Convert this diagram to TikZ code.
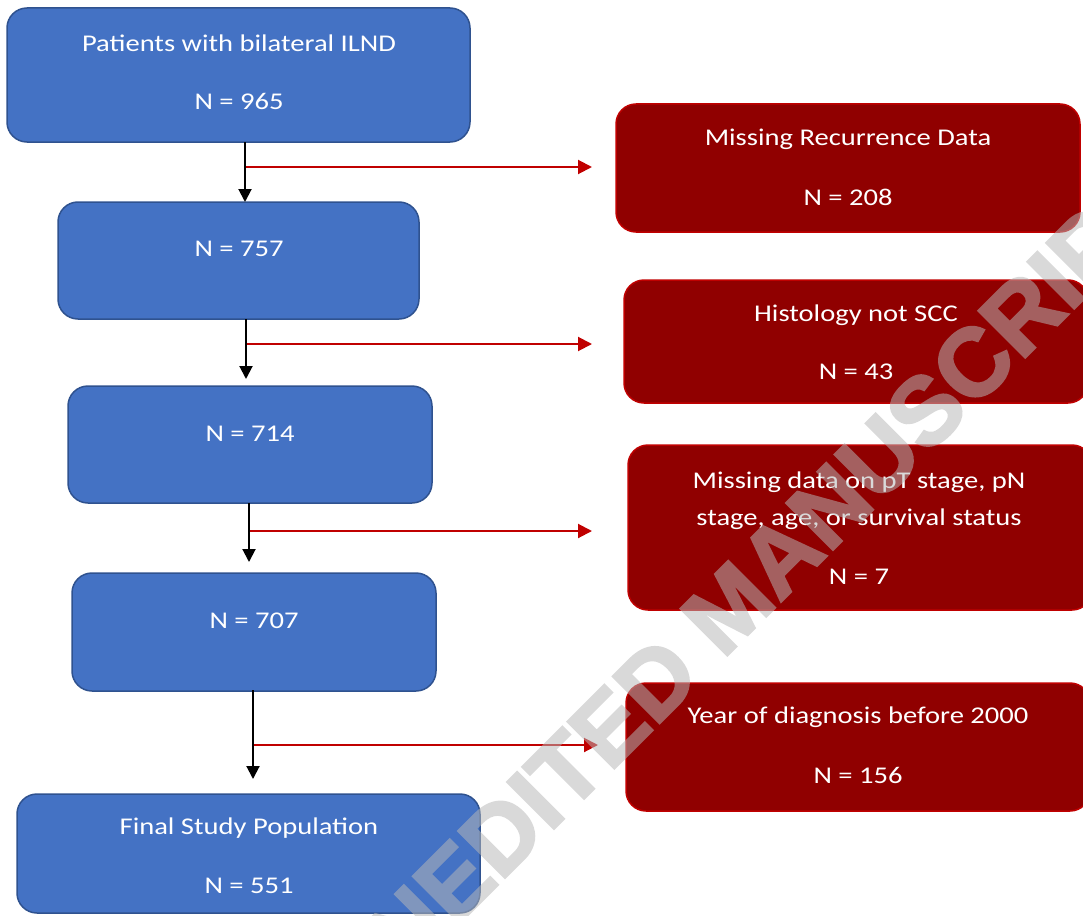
\documentclass[tikz,border=0pt]{standalone}
\usepackage{fontspec}
\usepackage{graphicx}
\setmainfont{Carlito}
\newfontfamily\wmfont{Liberation Sans}[FakeBold=2.5]
\usetikzlibrary{arrows.meta}
\definecolor{boxblue}{HTML}{4472C4}
\definecolor{blueedge}{HTML}{2F528F}
\definecolor{boxred}{HTML}{900000}
\definecolor{rededge}{HTML}{C00000}
\definecolor{wmgray}{RGB}{183,183,183}
\newcommand{\sx}[1]{\scalebox{1.19}[1]{#1}}
\tikzset{
  bluebox/.style={draw=blueedge, line width=1.5pt, fill=boxblue, rounded corners=20pt, inner sep=0pt},
  redbox/.style={draw=rededge, line width=1.5pt, fill=boxred, rounded corners=20pt, inner sep=0pt},
  txt/.style={text=white, font=\fontsize{24}{37}\selectfont, align=center, inner sep=0pt},
  flow/.style={draw=black, line width=2pt, -{Triangle[length=13pt,width=13pt]}},
  excl/.style={draw=rededge, line width=2pt, -{Triangle[length=14pt,width=14pt]}},
}
\begin{document}
\begin{tikzpicture}[x=1pt,y=-1pt]
\useasboundingbox (0,0) rectangle (1083,915);
\clip (0,0) rectangle (1083,915);
% blue boxes
\node[bluebox, minimum width=463pt, minimum height=134pt] (b1) at (238.5,75) {};
\node[bluebox, minimum width=361pt, minimum height=117pt] (b2) at (238.5,260.5) {};
\node[bluebox, minimum width=364pt, minimum height=117pt] (b3) at (250,444.5) {};
\node[bluebox, minimum width=364pt, minimum height=118pt] (b4) at (254,632) {};
\node[bluebox, minimum width=463pt, minimum height=119pt] (b5) at (248.5,853.5) {};
% red boxes
\node[redbox, minimum width=464pt, minimum height=128pt] (r1) at (848,168) {};
\node[redbox, minimum width=464pt, minimum height=123pt] (r2) at (856,341.5) {};
\node[redbox, minimum width=464pt, minimum height=165pt] (r3) at (860,527.5) {};
\node[redbox, minimum width=464pt, minimum height=128pt] (r4) at (858,747) {};
% texts
\node[txt] (tb1a) at (239,43) {\sx{Patients with bilateral ILND}};
\node[txt] (tb1b) at (239,101) {\sx{N = 965}};
\node[txt] (tb2) at (239,249) {\sx{N = 757}};
\node[txt] (tb3) at (250,434) {\sx{N = 714}};
\node[txt] (tb4) at (254,621) {\sx{N = 707}};
\node[txt] (tb5a) at (249,828) {\sx{Final Study Population}};
\node[txt] (tb5b) at (249,886) {\sx{N = 551}};
\node[txt] (tr1a) at (848,139) {\sx{Missing Recurrence Data}};
\node[txt] (tr1b) at (848,197) {\sx{N = 208}};
\node[txt] (tr2a) at (856,315) {\sx{Histology not SCC}};
\node[txt] (tr2b) at (856,372) {\sx{N = 43}};
\node[txt] (tr3a) at (859,482) {\sx{Missing data on pT stage, pN}};
\node[txt] (tr3b) at (859,519) {\sx{stage, age, or survival status}};
\node[txt] (tr3c) at (859,577) {\sx{N = 7}};
\node[txt] (tr4a) at (858,717) {\sx{Year of diagnosis before 2000}};
\node[txt] (tr4b) at (858,775) {\sx{N = 156}};
% connector coordinates
\coordinate (s1) at (245,142); \coordinate (e1) at (245,202);
\coordinate (s2) at (246,319); \coordinate (e2) at (246,379);
\coordinate (s3) at (249,503); \coordinate (e3) at (249,562);
\coordinate (s4) at (253,690); \coordinate (e4) at (253,779);
\coordinate (j1) at (245,167); \coordinate (x1) at (592,167);
\coordinate (j2) at (246,344); \coordinate (x2) at (592,344);
\coordinate (j3) at (249,531); \coordinate (x3) at (592,531);
\coordinate (j4) at (253,745); \coordinate (x4) at (598,745);
% flow arrows
\draw[flow] (s1) -- (e1);
\draw[flow] (s2) -- (e2);
\draw[flow] (s3) -- (e3);
\draw[flow] (s4) -- (e4);
% exclusion arrows
\draw[excl] ([xshift=1pt]j1) -- (x1);
\draw[excl] ([xshift=1pt]j2) -- (x2);
\draw[excl] ([xshift=1pt]j3) -- (x3);
\draw[excl] ([xshift=1pt]j4) -- (x4);
% watermark
\begin{scope}[transparency group, opacity=0.525]
\node[text=wmgray, rotate=45, inner sep=0pt,
      font=\wmfont\bfseries\fontsize{96}{96}\selectfont] (wm) at (743,593) {UNEDITED MANUSCRIPT};
\end{scope}
\end{tikzpicture}
\end{document}
